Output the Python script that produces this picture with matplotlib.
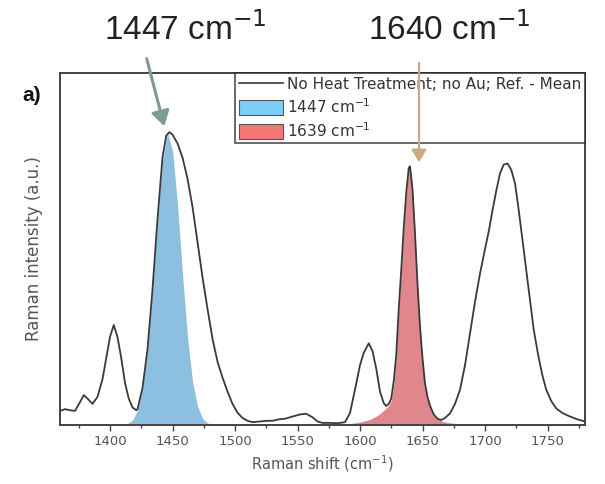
import matplotlib
matplotlib.use("Agg")
import matplotlib.pyplot as plt
from matplotlib.patches import Patch, FancyArrowPatch
from matplotlib.lines import Line2D

# ---- data ----
shift = [1360, 1364, 1368, 1372, 1376, 1379, 1382, 1386, 1390, 1394, 1397, 1400, 1403,
         1406, 1409, 1412, 1415, 1418, 1421, 1422, 1426, 1430, 1434, 1438, 1442, 1445,
         1447.5, 1450, 1454, 1458, 1462, 1466, 1470, 1474, 1478, 1482, 1486, 1490, 1494,
         1498, 1502, 1506, 1510, 1514, 1520, 1526, 1530, 1535, 1540, 1546, 1552, 1557,
         1562, 1566, 1570, 1576, 1582, 1588, 1592, 1597, 1600, 1603, 1607, 1610, 1613,
         1616, 1619, 1621, 1623, 1625, 1627, 1629, 1631, 1633, 1635, 1637, 1639, 1640,
         1642, 1644, 1646, 1648, 1650, 1652, 1654, 1656, 1659, 1662, 1665, 1668, 1672,
         1676, 1680, 1684, 1688, 1692, 1696, 1700, 1703, 1706, 1709, 1712, 1715, 1718,
         1721, 1724, 1727, 1730, 1733, 1736, 1739, 1743, 1746, 1749, 1753, 1757, 1762,
         1768, 1774, 1780]
intensity = [0.040, 0.045, 0.042, 0.040, 0.065, 0.085, 0.075, 0.060, 0.080, 0.130, 0.190,
             0.250, 0.284, 0.250, 0.190, 0.120, 0.075, 0.050, 0.042, 0.045, 0.105, 0.215,
             0.385, 0.585, 0.760, 0.822, 0.832, 0.825, 0.800, 0.760, 0.700, 0.620, 0.520,
             0.420, 0.330, 0.245, 0.180, 0.135, 0.095, 0.060, 0.035, 0.020, 0.012, 0.008,
             0.010, 0.012, 0.012, 0.016, 0.018, 0.024, 0.030, 0.032, 0.022, 0.010, 0.006,
             0.006, 0.005, 0.008, 0.034, 0.118, 0.170, 0.205, 0.232, 0.210, 0.160, 0.095,
             0.062, 0.054, 0.060, 0.075, 0.125, 0.200, 0.330, 0.440, 0.560, 0.660, 0.730,
             0.735, 0.670, 0.545, 0.400, 0.280, 0.190, 0.118, 0.080, 0.055, 0.030, 0.018,
             0.014, 0.020, 0.033, 0.060, 0.100, 0.170, 0.260, 0.350, 0.430, 0.500, 0.550,
             0.610, 0.665, 0.715, 0.740, 0.743, 0.725, 0.687, 0.610, 0.525, 0.440, 0.355,
             0.270, 0.190, 0.140, 0.100, 0.068, 0.047, 0.034, 0.024, 0.016, 0.010]

band1_shift = [1410, 1414, 1418, 1422, 1426, 1430, 1434, 1438, 1442, 1446, 1450, 1454,
               1458, 1462, 1466, 1470, 1474, 1478, 1482]
band1_fit = [0.001, 0.004, 0.014, 0.041, 0.102, 0.213, 0.380, 0.578, 0.750, 0.830, 0.780,
             0.627, 0.429, 0.250, 0.124, 0.053, 0.019, 0.006, 0.002]

band2_shift = [1590, 1596, 1602, 1608, 1613, 1617, 1620, 1623, 1625, 1627, 1629, 1631,
               1633, 1635, 1637, 1639, 1640, 1642, 1644, 1646, 1648, 1650, 1652, 1654,
               1656, 1659, 1662, 1666, 1672, 1680, 1688]
band2_fit = [0.003, 0.006, 0.010, 0.016, 0.025, 0.035, 0.045, 0.055, 0.070, 0.115, 0.195,
             0.325, 0.435, 0.555, 0.655, 0.725, 0.730, 0.665, 0.540, 0.395, 0.275, 0.185,
             0.112, 0.075, 0.050, 0.030, 0.018, 0.010, 0.006, 0.003, 0.001]

xticks = [1400, 1450, 1500, 1550, 1600, 1650, 1700, 1750]
legend_labels = ["No Heat Treatment; no Au; Ref. - Mean", "1447 cm$^{-1}$", "1639 cm$^{-1}$"]
top_labels = ["1447 cm$^{-1}$", "1640 cm$^{-1}$"]

# ---- figure ----
W, H = 605, 484
fig = plt.figure(figsize=(W / 100, H / 100), dpi=100)
fig.patch.set_facecolor("white")
ax = fig.add_axes([60 / W, 1 - 425 / H, 525 / W, 352 / H])

ax.fill_between(band1_shift, band1_fit, 0, color="#8cbfe0", lw=0, zorder=1)
ax.fill_between(band2_shift, band2_fit, 0, color="#e0878d", lw=0, zorder=1)
ax.plot(shift, intensity, color="#3a3a3a", lw=1.3, zorder=3)

ax.set_xlim(1360, 1780)
ax.set_ylim(0, 1)
ax.set_xticks(xticks)
ax.set_xticks(range(1375, 1780, 50), minor=True)
ax.set_yticks([])
ax.tick_params(axis="x", which="major", direction="out", length=4, width=1,
               color="#444444", labelsize=9.5, labelcolor="#555555", pad=3)
ax.tick_params(axis="x", which="minor", direction="out", length=2.5, width=1,
               color="#444444")
for s in ax.spines.values():
    s.set_color("#444444")
    s.set_linewidth(1.4)

ax.set_xlabel("Raman shift (cm$^{-1}$)", fontsize=10.5, color="#555555", labelpad=4)
ax.set_ylabel("Raman intensity (a.u.)", fontsize=12, color="#555555", labelpad=12)

handles = [
    Line2D([0], [0], color="#3a3a3a", lw=1.2),
    Patch(facecolor="#7dcdf7", edgecolor="#555555", lw=0.8),
    Patch(facecolor="#f27777", edgecolor="#555555", lw=0.8),
]
leg = ax.legend(handles, legend_labels, loc="upper right", bbox_to_anchor=(1, 1),
                borderaxespad=0, frameon=True, fancybox=False, fontsize=11,
                handlelength=2.9, handleheight=1.1, handletextpad=0.25,
                labelspacing=0.32, borderpad=0.25)
leg.get_frame().set_edgecolor("#222222")
leg.get_frame().set_linewidth(1.2)
for t in leg.get_texts():
    t.set_color("#333333")

# panel label
fig.text(22 / W, 1 - 95 / H, "a)", fontsize=15, fontweight="bold",
         family="Liberation Sans", ha="left", va="center", color="#111111")

# top annotations
fig.text(185 / W, 1 - 30 / H, top_labels[0], fontsize=24, family="Liberation Sans",
         ha="center", va="center", color="#222222")
fig.text(449 / W, 1 - 30 / H, top_labels[1], fontsize=24, family="Liberation Sans",
         ha="center", va="center", color="#222222")

fig.add_artist(FancyArrowPatch(
    (146 / W, 1 - 56 / H), (165 / W, 1 - 129 / H), transform=fig.transFigure,
    arrowstyle="-|>,head_length=5,head_width=3", mutation_scale=1.8,
    color="#7f9c8c", lw=2.2))
fig.add_artist(FancyArrowPatch(
    (419 / W, 1 - 60 / H), (419 / W, 1 - 165 / H), transform=fig.transFigure,
    arrowstyle="-|>,head_length=5,head_width=3", mutation_scale=1.5,
    color="#c8aa84", lw=1.6))

fig.savefig("out.png", dpi=100, facecolor="white")
